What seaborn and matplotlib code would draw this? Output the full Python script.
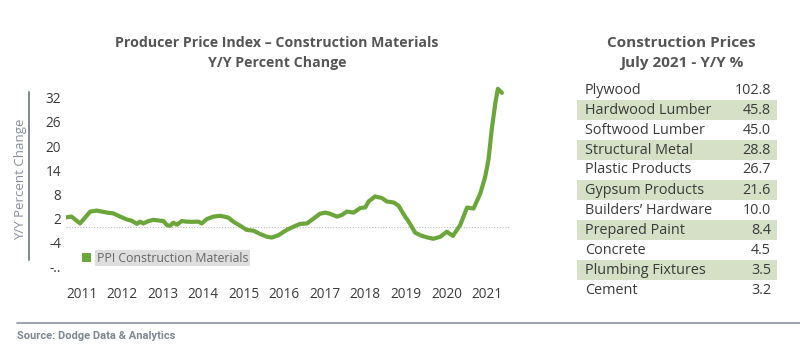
import matplotlib
matplotlib.use("Agg")
import matplotlib.pyplot as plt
from matplotlib.patches import Rectangle, Patch
from matplotlib.lines import Line2D
import seaborn as sns
import pandas as pd

# PPI construction materials, Y/Y % change
year_pos = [2010.60, 2010.75, 2010.96, 2011.21, 2011.37, 2011.62, 2011.78, 2011.95,
            2012.11, 2012.23, 2012.36, 2012.44, 2012.52, 2012.65, 2012.77, 2012.93,
            2013.02, 2013.10, 2013.18, 2013.26, 2013.35, 2013.47, 2013.59, 2013.72,
            2013.88, 2013.96, 2014.09, 2014.25, 2014.42, 2014.62, 2014.74, 2014.91,
            2015.07, 2015.24, 2015.40, 2015.57, 2015.69, 2015.86, 2016.06, 2016.23,
            2016.39, 2016.56, 2016.68, 2016.88, 2017.01, 2017.13, 2017.30, 2017.42,
            2017.54, 2017.71, 2017.87, 2018.00, 2018.08, 2018.24, 2018.41, 2018.53,
            2018.70, 2018.82, 2018.98, 2019.07, 2019.23, 2019.40, 2019.56, 2019.68,
            2019.85, 2020.01, 2020.16, 2020.34, 2020.51, 2020.67, 2020.84, 2020.96,
            2021.04, 2021.12, 2021.21, 2021.27, 2021.37]
yoy = [2.3, 2.5, 0.8, 3.75, 4.0, 3.5, 3.3, 2.5,
       1.8, 1.5, 0.7, 1.25, 0.8, 1.4, 1.7, 1.5,
       1.4, 0.4, 0.2, 1.0, 0.5, 1.4, 1.25, 1.2,
       1.25, 0.8, 1.9, 2.5, 2.7, 2.25, 1.25, 0.25,
       -0.8, -1.0, -1.8, -2.5, -2.7, -2.1, -0.8, 0.0,
       0.7, 0.8, 1.7, 3.2, 3.5, 3.2, 2.5, 2.9,
       3.75, 3.5, 4.6, 4.8, 6.25, 7.5, 7.1, 6.25,
       6.0, 5.2, 2.5, 1.25, -1.5, -2.3, -2.75, -3.0,
       -2.5, -1.25, -2.3, 0.4, 4.75, 4.5, 8.3, 12.5,
       16.7, 24.2, 30.8, 34.2, 33.2]

years = list(range(2011, 2022))
y_ticks = [-10, -4, 2, 8, 14, 20, 26, 32]
y_tick_labels = ["-..", "-4", "2", "8", "14", "20", "26", "32"]

# table on the right
materials = ["Plywood", "Hardwood Lumber", "Softwood Lumber", "Structural Metal",
             "Plastic Products", "Gypsum Products", "Builders\u2019 Hardware",
             "Prepared Paint", "Concrete", "Plumbing Fixtures", "Cement"]
changes = [102.8, 45.8, 45.0, 28.8, 26.7, 21.6, 10.0, 8.4, 4.5, 3.5, 3.2]

GREEN = "#6aa63a"
TITLE = "#555555"
TEXT = "#3a3a3a"

sns.set_theme(style="white")
plt.rcParams["font.family"] = ["Open Sans", "DejaVu Sans"]

W, H = 800, 356
fig = plt.figure(figsize=(8, 3.56), dpi=100)
ax = fig.add_axes([65.5 / W, 1 - 269 / H, (510 - 65.5) / W, (269 - 83.6) / H])

df = pd.DataFrame({"year": year_pos, "yoy": yoy})
sns.lineplot(data=df, x="year", y="yoy", ax=ax, color=GREEN, linewidth=3)
ax.axhline(0, color="#bbbbbb", linestyle=(0, (1, 1.5)), linewidth=0.8, zorder=0)

ax.set_xlim(2010.6, 2021.57)
ax.set_ylim(-10.5, 35.5)
ax.set_xticks(years)
ax.set_xticklabels([str(y) for y in years])
ax.set_yticks(y_ticks)
ax.set_yticklabels(y_tick_labels)
ax.tick_params(axis="x", length=0, pad=13, labelsize=9.8, labelcolor=TEXT)
ax.tick_params(axis="y", length=0, pad=3, labelsize=9.8, labelcolor=TEXT)
ax.set_xlabel("")
ax.set_ylabel("")
for s in ax.spines.values():
    s.set_visible(False)

# legend
leg = ax.legend(handles=[Patch(facecolor=GREEN, edgecolor="none")],
                labels=["PPI Construction Materials"],
                loc="center left", bbox_to_anchor=(82 / W, 1 - 258 / H),
                bbox_transform=fig.transFigure, frameon=False,
                handlelength=0.7, handleheight=0.7, handletextpad=0.5,
                fontsize=8.8, borderaxespad=0, borderpad=0)
for t in leg.get_texts():
    t.set_color("#666666")
    t.set_bbox(dict(facecolor="#dedede", edgecolor="none", pad=1.2))

# y label and its vertical rule
fig.text(21 / W, 1 - 179 / H, "Y/Y Percent Change", rotation=90, ha="center",
         va="center", fontsize=9.5, color="#8a9099")
fig.add_artist(Line2D([29.3 / W, 29.3 / W], [1 - 92 / H, 1 - 260 / H],
                      color="#7a7f86", linewidth=1.3))

# left titles
fig.text(277 / W, 1 - 43 / H, "Producer Price Index \u2013 Construction Materials",
         ha="center", va="center", fontsize=10.2, fontweight="bold", color=TITLE)
fig.text(277 / W, 1 - 63 / H, "Y/Y Percent Change", ha="center", va="center",
         fontsize=10.2, fontweight="bold", color=TITLE)

# right table
fig.text(681.7 / W, 1 - 43 / H, "Construction Prices", ha="center", va="center",
         fontsize=11, fontweight="bold", color=TITLE)
fig.text(681.7 / W, 1 - 63 / H, "July 2021 - Y/Y %", ha="center", va="center",
         fontsize=11, fontweight="bold", color=TITLE)
for i, (name, val) in enumerate(zip(materials, changes)):
    yc = 90 + 20 * i
    if i % 2 == 1:
        fig.add_artist(Rectangle((577 / W, 1 - (yc + 10) / H), 200 / W, 20 / H,
                                 facecolor="#d5e0c6", edgecolor="none"))
    fig.text(585 / W, 1 - yc / H, name, ha="left", va="center",
             fontsize=10.4, color=TEXT)
    fig.text(771 / W, 1 - yc / H, f"{val:.1f}", ha="right", va="center",
             fontsize=10.4, color=TEXT)

# source
fig.add_artist(Line2D([17 / W, 1.0], [1 - 322.7 / H, 1 - 322.7 / H],
                      color="#8c959d", linewidth=1.2))
fig.text(17 / W, 1 - 336 / H, "Source: Dodge Data & Analytics", ha="left",
         va="center", fontsize=8, fontweight="bold", color="#7d8790",
         family=["Roboto", "DejaVu Sans"])

fig.savefig("out.png", dpi=100)
